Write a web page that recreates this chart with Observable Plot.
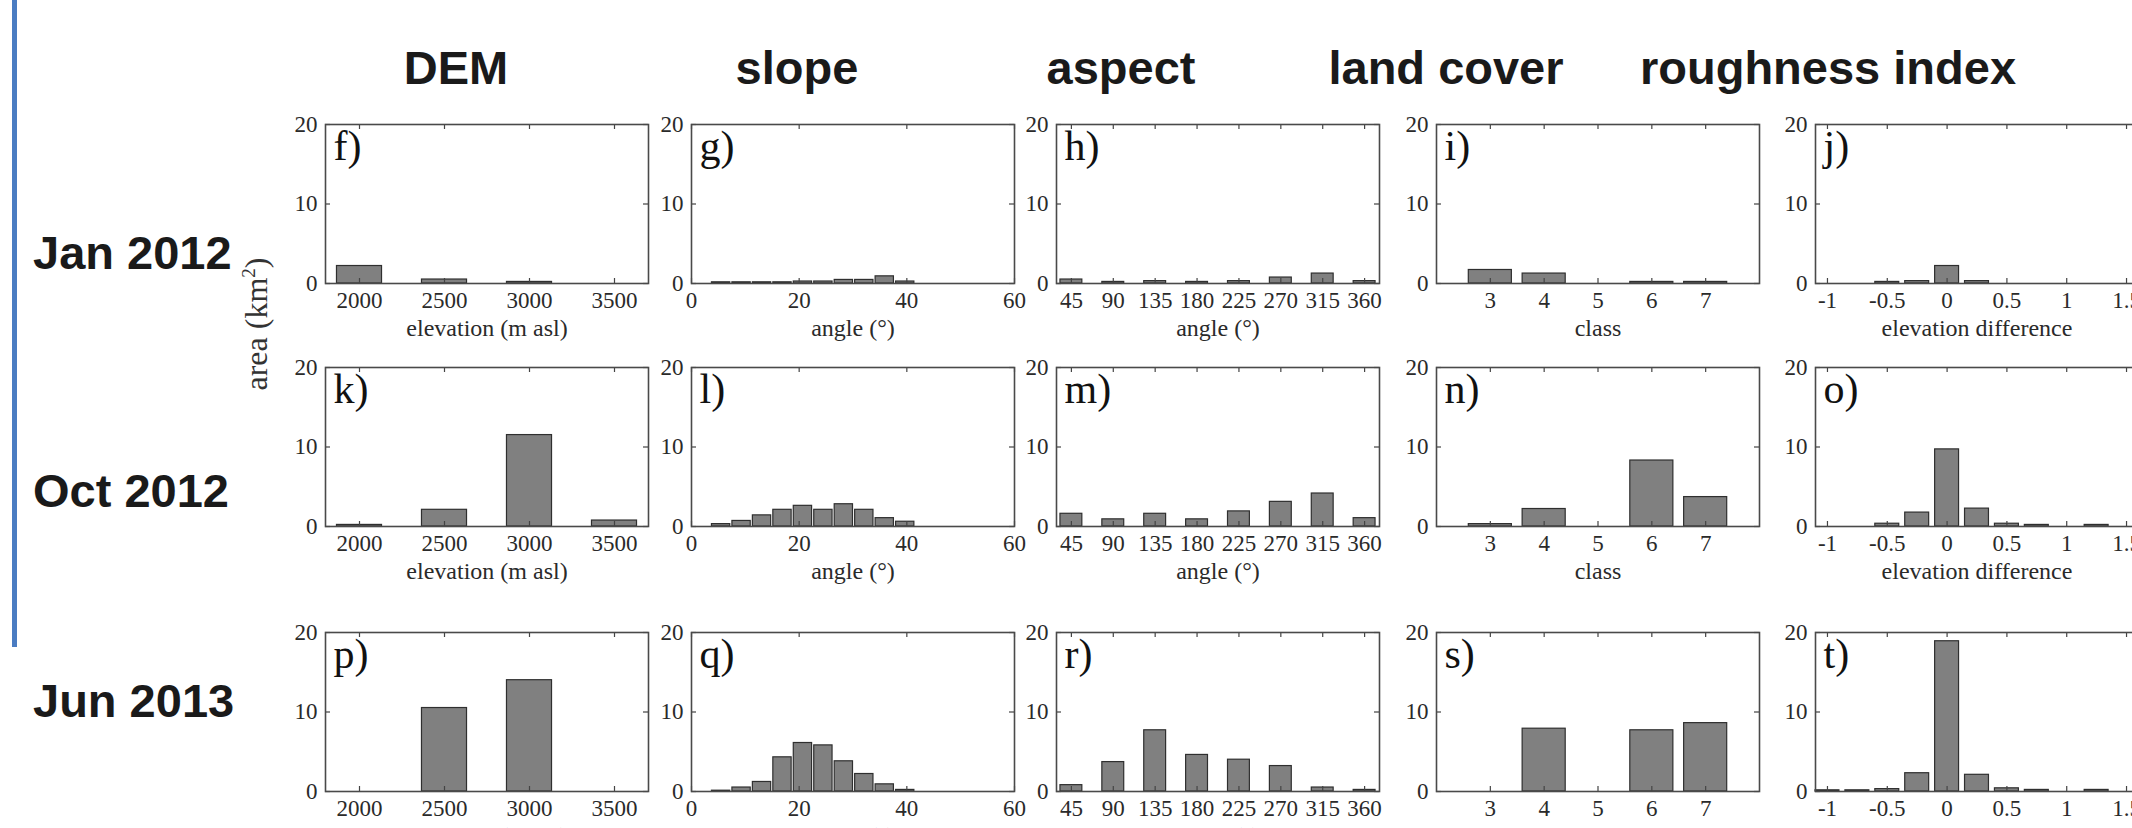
<!DOCTYPE html>
<html>
<head>
<meta charset="utf-8">
<script src="https://cdn.jsdelivr.net/npm/d3@7"></script>
<script src="https://cdn.jsdelivr.net/npm/@observablehq/plot@0.6"></script>
<style>
  html, body { margin: 0; padding: 0; background: #fff; }
  #stage { position: relative; width: 2132px; height: 828px; overflow: hidden; background: #fff; }
  .colTitle, .rowTitle { position: absolute; font-family: "Liberation Sans", Arial, sans-serif; font-weight: bold; font-size: 47px; color: #1a1a1a; white-space: nowrap; line-height: 1; }
  .colTitle { transform: translate(-50%, -50%); }
  .rowTitle { transform: translate(0, -50%); }
  #bar { position: absolute; left: 12px; top: 0; width: 5px; height: 647px; background: #4a7cc2; }
  #ylab { position: absolute; left: 256px; top: 324px; transform: translate(-50%, -50%) rotate(-90deg); font-family: "Liberation Serif", serif; font-size: 32px; color: #333; white-space: nowrap; }
  #ylab sup { font-size: 19px; }
  .panel { position: absolute; }
</style>
</head>
<body>
<div id="stage">
  <div id="bar"></div>
  <div id="ylab">area (km<sup>2</sup>)</div>
</div>
<script>
// ---- data ----
const columnTitles = ["DEM", "slope", "aspect", "land cover", "roughness index"];
const rowTitles = ["Jan 2012", "Oct 2012", "Jun 2013"];
const panelLetters = [["f)", "g)", "h)", "i)", "j)"], ["k)", "l)", "m)", "n)", "o)"], ["p)", "q)", "r)", "s)", "t)"]];
const xLabels = ["elevation (m asl)", "angle (°)", "angle (°)", "class", "elevation difference"];
const yTicks = [0, 10, 20];

const demBins = [2000, 2500, 3000, 3500];
const demTicks = [2000, 2500, 3000, 3500];
const demJan = [2.2, 0.5, 0.2, 0];
const demOct = [0.2, 2.1, 11.5, 0.75];
const demJun = [0, 10.5, 14.0, 0];

const slopeBins = [5.5, 9.3, 13.1, 16.9, 20.7, 24.5, 28.3, 32.1, 35.9, 39.7];
const slopeTicks = [0, 20, 40, 60];
const slopeJan = [0.15, 0.15, 0.15, 0.15, 0.25, 0.25, 0.45, 0.45, 0.9, 0.25];
const slopeOct = [0.3, 0.7, 1.4, 2.1, 2.6, 2.1, 2.8, 2.1, 1.05, 0.6];
const slopeJun = [0.1, 0.5, 1.2, 4.3, 6.1, 5.8, 3.8, 2.2, 0.9, 0.2];

const aspectBins = [45, 90, 135, 180, 225, 270, 315, 360];
const aspectTicks = [45, 90, 135, 180, 225, 270, 315, 360];
const aspectJan = [0.5, 0.2, 0.3, 0.2, 0.3, 0.75, 1.25, 0.3];
const aspectOct = [1.6, 0.9, 1.6, 0.9, 1.9, 3.1, 4.15, 1.05];
const aspectJun = [0.8, 3.7, 7.7, 4.6, 4.0, 3.2, 0.5, 0.2];

const landBins = [3, 4, 5, 6, 7];
const landTicks = [3, 4, 5, 6, 7];
const landJan = [1.7, 1.25, 0, 0.2, 0.2];
const landOct = [0.3, 2.2, 0, 8.3, 3.7];
const landJun = [0, 7.9, 0, 7.7, 8.6];

const roughBins = [-1, -0.75, -0.5, -0.25, 0, 0.25, 0.5, 0.75, 1, 1.25];
const roughTicks = [-1, -0.5, 0, 0.5, 1, 1.5];
const roughJan = [0, 0, 0.2, 0.3, 2.2, 0.3, 0, 0, 0, 0];
const roughOct = [0, 0, 0.35, 1.75, 9.7, 2.25, 0.35, 0.2, 0, 0.2];
const roughJun = [0.15, 0.15, 0.3, 2.3, 18.9, 2.1, 0.4, 0.2, 0, 0.2];

// ---- layout ----
const columns = [
  {bins: demBins, ticks: demTicks, domain: [1800, 3700], barWidth: 265, series: [demJan, demOct, demJun]},
  {bins: slopeBins, ticks: slopeTicks, domain: [0, 60], barWidth: 3.4, series: [slopeJan, slopeOct, slopeJun]},
  {bins: aspectBins, ticks: aspectTicks, domain: [29, 376], barWidth: 23.5, series: [aspectJan, aspectOct, aspectJun]},
  {bins: landBins, ticks: landTicks, domain: [2, 8], barWidth: 0.8, series: [landJan, landOct, landJun]},
  {bins: roughBins, ticks: roughTicks, domain: [-1.1, 1.6], barWidth: 0.2, series: [roughJan, roughOct, roughJun]}
];
const frameLefts = [325, 691, 1056, 1436, 1815];
const frameTops = [124, 367, 632];
const colTitleX = [456, 797, 1121, 1446, 1828];
const rowTitleY = [252, 490, 700];
const FW = 323, FH = 159;
const ML = 60, MR = 20, MT = 10, MB = 70;

const stage = document.getElementById("stage");

columnTitles.forEach((t, i) => {
  const d = document.createElement("div");
  d.className = "colTitle";
  d.textContent = t;
  d.style.left = colTitleX[i] + "px";
  d.style.top = "67px";
  stage.appendChild(d);
});
rowTitles.forEach((t, i) => {
  const d = document.createElement("div");
  d.className = "rowTitle";
  d.textContent = t;
  d.style.left = "33px";
  d.style.top = rowTitleY[i] + "px";
  stage.appendChild(d);
});

const tickLen = 5;
columns.forEach((col, c) => {
  col.series.forEach((vals, r) => {
    const data = col.bins.map((b, i) => ({b, v: vals[i]})).filter(d => d.v > 0);
    const dom = col.domain;
    const xEps = (dom[1] - dom[0]) * tickLen / FW;
    const yEps = 20 * tickLen / FH;
    const chart = Plot.plot({
      width: FW + ML + MR,
      height: FH + MT + MB,
      marginLeft: ML, marginRight: MR, marginTop: MT, marginBottom: MB,
      style: {background: "transparent", overflow: "visible", fontFamily: "'Liberation Serif', 'Times New Roman', serif", fontSize: "23px", color: "#2a2a2a", maxWidth: "none"},
      x: {domain: dom},
      y: {domain: [0, 20]},
      marks: [
        Plot.rect(data, {x1: d => d.b - col.barWidth / 2, x2: d => d.b + col.barWidth / 2, y1: 0, y2: d => d.v, fill: "#808080", stroke: "#2f2f2f", strokeWidth: 1.2}),
        Plot.ruleX(col.ticks, {x: d => d, y1: 0, y2: yEps, stroke: "#444", strokeWidth: 1.2}),
        Plot.ruleX(col.ticks, {x: d => d, y1: 20 - yEps, y2: 20, stroke: "#444", strokeWidth: 1.2}),
        Plot.ruleY(yTicks, {y: d => d, x1: dom[0], x2: dom[0] + xEps, stroke: "#444", strokeWidth: 1.2}),
        Plot.ruleY(yTicks, {y: d => d, x1: dom[1] - xEps, x2: dom[1], stroke: "#444", strokeWidth: 1.2}),
        Plot.frame({stroke: "#4a4a4a", strokeWidth: 1.6}),
        Plot.axisX({ticks: col.ticks, tickSize: 0, tickPadding: 8, label: null, tickFormat: d => String(d)}),
        Plot.axisY({ticks: yTicks, tickSize: 0, tickPadding: 8, label: null, tickFormat: d => String(d)}),
        Plot.text([panelLetters[r][c]], {text: d => d, frameAnchor: "top-left", dx: 8, dy: 6, lineAnchor: "top", textAnchor: "start", fontSize: 42, fill: "#111"}),
        Plot.text([xLabels[c]], {text: d => d, frameAnchor: "bottom", dy: 45, lineAnchor: "middle", fontSize: 24, fill: "#2a2a2a"})
      ]
    });
    chart.classList.add("panel");
    chart.style.left = (frameLefts[c] - ML) + "px";
    chart.style.top = (frameTops[r] - MT) + "px";
    chart.style.position = "absolute";
    stage.appendChild(chart);
  });
});
</script>
</body>
</html>
